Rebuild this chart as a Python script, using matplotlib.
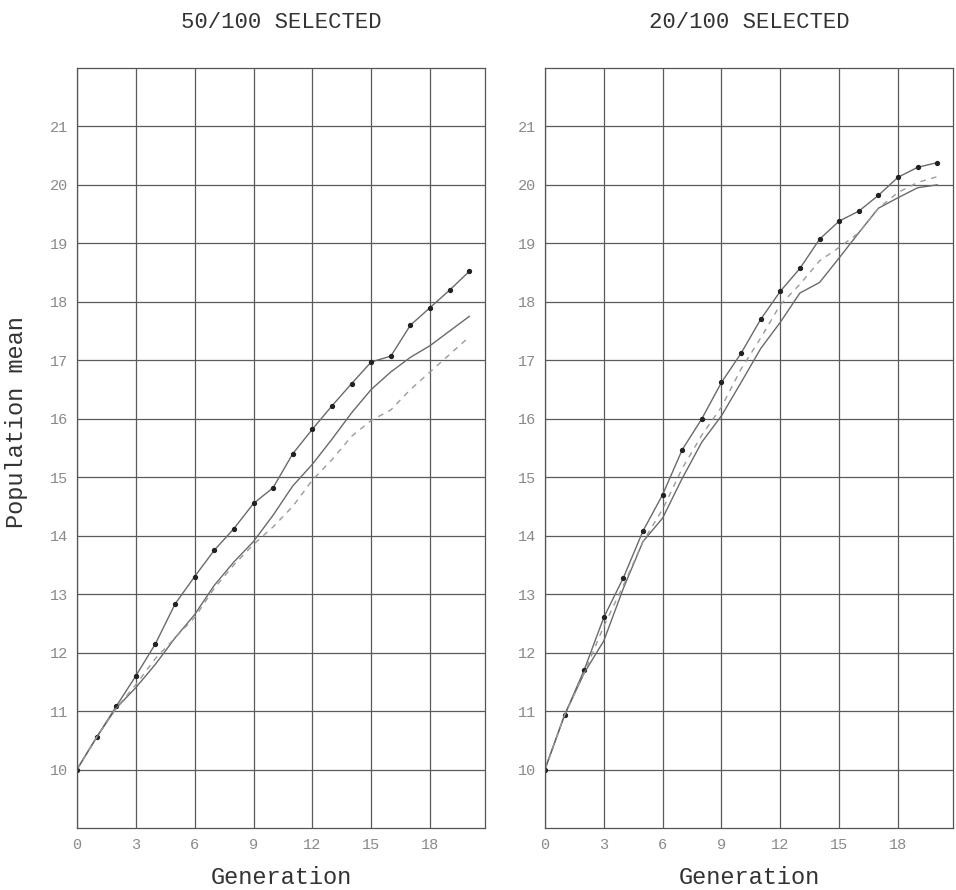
import numpy as np
import matplotlib
matplotlib.use("Agg")
import matplotlib.pyplot as plt

plt.rcParams['font.family'] = ['Liberation Mono', 'DejaVu Sans Mono']

generation = list(range(21))

# 50/100 selected
left_dotted = [10.0, 10.55, 11.08, 11.6, 12.15, 12.83, 13.3, 13.75, 14.12, 14.55, 14.82,
               15.4, 15.82, 16.22, 16.6, 16.97, 17.07, 17.6, 17.9, 18.2, 18.52]
left_solid = [10.0, 10.55, 11.05, 11.4, 11.8, 12.25, 12.65, 13.15, 13.55, 13.9, 14.35,
              14.85, 15.22, 15.65, 16.1, 16.5, 16.8, 17.05, 17.25, 17.5, 17.75]
left_dashed = [10.0, 10.55, 11.05, 11.45, 11.9, 12.25, 12.6, 13.1, 13.5, 13.85, 14.15,
               14.5, 14.95, 15.3, 15.7, 15.97, 16.15, 16.5, 16.8, 17.1, 17.4]

# 20/100 selected
right_dotted = [10.0, 10.93, 11.7, 12.6, 13.28, 14.08, 14.7, 15.47, 16.0, 16.62, 17.12,
                17.7, 18.18, 18.57, 19.07, 19.38, 19.55, 19.82, 20.13, 20.3, 20.38]
right_dashed = [10.0, 10.93, 11.65, 12.45, 13.15, 13.9, 14.45, 15.15, 15.72, 16.2, 16.85,
                17.38, 17.95, 18.3, 18.7, 18.93, 19.18, 19.6, 19.87, 20.04, 20.14]
right_solid = [10.0, 10.93, 11.65, 12.2, 13.1, 13.9, 14.3, 14.98, 15.6, 16.05, 16.62,
               17.2, 17.65, 18.15, 18.33, 18.75, 19.18, 19.6, 19.78, 19.95, 20.0]

titles = ["50/100 SELECTED", "20/100 SELECTED"]
x_ticks = [0, 3, 6, 9, 12, 15, 18]
y_ticks = list(range(10, 22))

fig = plt.figure(figsize=(9.56, 8.9), dpi=100)
ax1 = fig.add_axes([0.0805, 0.0697, 0.4268, 0.854])
ax2 = fig.add_axes([0.570, 0.0697, 0.4268, 0.854])

panels = [(ax1, left_dotted, left_solid, left_dashed),
          (ax2, right_dotted, right_solid, right_dashed)]

for i, (ax, dotted, solid, dashed) in enumerate(panels):
    ax.set_xlim(0, 20.8)
    ax.set_ylim(9, 22)
    ax.set_xticks(x_ticks)
    ax.set_yticks(y_ticks)
    ax.grid(True, color='#5a5a5a', linewidth=0.9)
    ax.set_axisbelow(True)
    ax.tick_params(length=0, labelsize=11, labelcolor='#8a8a8a')
    ax.tick_params(axis='x', pad=7)
    ax.tick_params(axis='y', pad=6)
    for s in ax.spines.values():
        s.set_color('#555555')
        s.set_linewidth(0.9)

    ax.plot(generation, dotted, color='#6a6a6a', lw=1.0, marker='o', ms=2.8,
            mfc='#222222', mec='#222222')
    ax.plot(generation, solid, color='#6a6a6a', lw=1.0)
    ax.plot(generation, dashed, color='#9a9a9a', lw=1.0, ls=(0, (4, 4)))

    ax.set_xlabel("Generation", fontsize=17, color='#333333', labelpad=10)
    ax.set_title(titles[i], fontsize=16, color='#333333', pad=29)

ax1.set_ylabel("Population mean", fontsize=17, color='#333333')
ax1.yaxis.set_label_coords(-0.12, 0.534)

fig.savefig("out.png", dpi=100)
